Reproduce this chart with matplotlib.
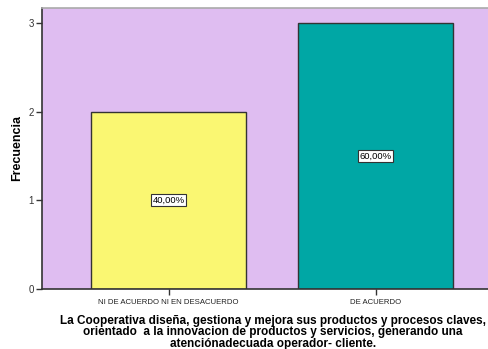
import matplotlib
matplotlib.use("Agg")
import matplotlib.pyplot as plt

categories = ["NI DE ACUERDO NI EN DESACUERDO", "DE ACUERDO"]
values = [2, 3]
pct_labels = ["40,00%", "60,00%"]
colors = ["#FAF772", "#00A7A5"]
yticks = [0, 1, 2, 3]

plt.rcParams['font.family'] = ['Liberation Sans', 'DejaVu Sans']

W, H = 489, 349
fig = plt.figure(figsize=(W/100, H/100), dpi=100)
ax = fig.add_axes([42/W, 1-289/H, (488-42)/W, (289-8)/H])
ax.set_facecolor("#DFBDF1")

x = list(range(len(categories)))
ax.bar(x, values, width=0.749, color=colors, edgecolor="#333333", linewidth=1.0, zorder=2)
for xi, v, lab in zip(x, values, pct_labels):
    ax.text(xi, v/2, lab, ha="center", va="center", fontsize=6.8, zorder=3,
            bbox=dict(boxstyle="square,pad=0.15", facecolor="white", edgecolor="#333333", linewidth=0.8))

ax.set_xlim(-0.611, 1.543)
ax.set_ylim(0, 3.17)
ax.set_yticks(yticks)
ax.set_yticklabels([str(t) for t in yticks], fontsize=7, color="#333333")
ax.set_xticks(x)
ax.set_xticklabels(categories, fontsize=5.6, color="#222222")
ax.tick_params(axis="both", length=4, width=1, color="#333333", pad=2)
ax.tick_params(axis="x", pad=3)

for s in ["left", "bottom"]:
    ax.spines[s].set_color("#333333")
    ax.spines[s].set_linewidth(1.2)
ax.spines["top"].set_color("#AAAAAA")
ax.spines["top"].set_linewidth(1.2)
ax.spines["right"].set_visible(False)

fig.text(17/W, 1-148/H, "Frecuencia", rotation=90, ha="center", va="center",
         fontsize=9, fontweight="bold")
fig.text(273/W, 1-332.5/H,
         "La Cooperativa diseña, gestiona y mejora sus productos y procesos claves,\n"
         "orientado  a la innovacion de productos y servicios, generando una\n"
         "atenciónadecuada operador- cliente.",
         ha="center", va="center", fontsize=8.5, fontweight="bold", linespacing=0.93)

fig.savefig("out.png", dpi=100)
